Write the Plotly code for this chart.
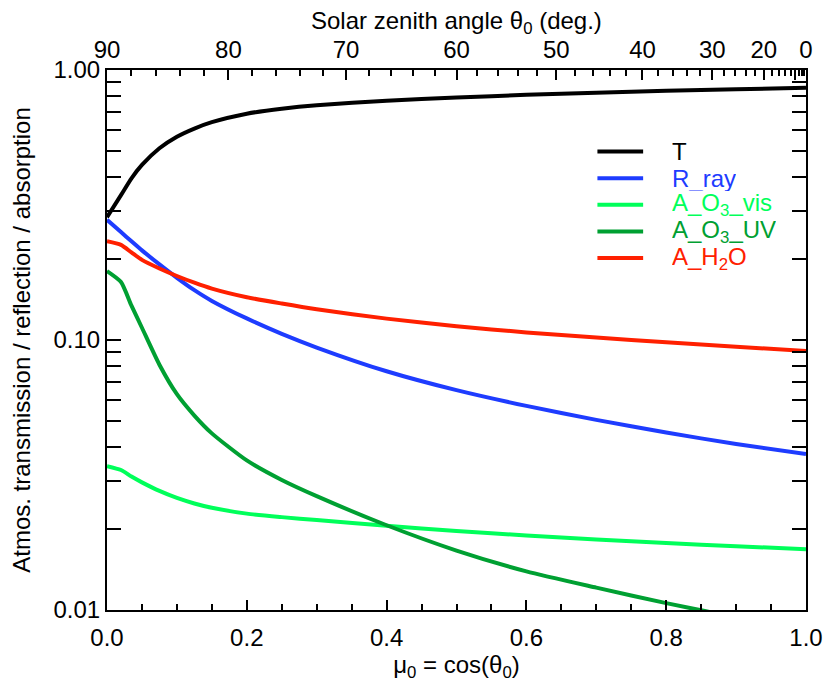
import numpy as np
import plotly.graph_objects as go

# ---------------- data ----------------
mu = [0.0, 0.02, 0.035, 0.05, 0.075, 0.1, 0.125, 0.15, 0.2, 0.25, 0.3, 0.4, 0.5, 0.6, 0.7,
      0.8, 0.9, 1.0]

T = [0.285, 0.344, 0.397, 0.445, 0.513, 0.566, 0.607, 0.641, 0.689, 0.719, 0.741, 0.769,
     0.791, 0.809, 0.824, 0.838, 0.849, 0.859]
R_ray = [0.2786, 0.251, 0.232, 0.2148, 0.1905, 0.170, 0.153, 0.1396, 0.1202, 0.1054, 0.0938,
         0.0766, 0.0652, 0.0570, 0.0506, 0.0454, 0.0412, 0.0378]
A_O3_vis = [0.0341, 0.0330, 0.0312, 0.0297, 0.0276, 0.0260, 0.0248, 0.0239, 0.02275, 0.02208,
            0.02153, 0.0205, 0.01963, 0.01888, 0.01824, 0.0177, 0.01722, 0.0168]
A_O3_UV = [0.180, 0.164, 0.134, 0.111, 0.081, 0.0630, 0.0525, 0.0451, 0.0358, 0.0303,
           0.0264, 0.0206, 0.0166, 0.0139, 0.0121, 0.0106, 0.0094, 0.0084]
A_H2O = [0.232, 0.225, 0.211, 0.198, 0.184, 0.1726, 0.163, 0.155, 0.144, 0.1365, 0.130,
         0.120, 0.1125, 0.1067, 0.1021, 0.0981, 0.0944, 0.0911]

series_names = ["T", "R_ray", "A_O<sub>3</sub>_vis", "A_O<sub>3</sub>_UV", "A_H<sub>2</sub>O"]
series_values = [T, R_ray, A_O3_vis, A_O3_UV, A_H2O]
series_colors = ["#000000", "#1e3cff", "#00ff5a", "#00a032", "#ff2000"]

# axis tick labels
x_ticks = [0.0, 0.2, 0.4, 0.6, 0.8, 1.0]
y_ticks = [0.01, 0.1, 1.0]
y_ticktext = ["0.01", "0.10", "1.00"]
theta_major = [90, 80, 70, 60, 50, 40, 30, 20, 10, 0]
theta_major_text = ["90", "80", "70", "60", "50", "40", "30", "20", "", "0"]
theta_minor = [d for d in range(2, 90, 2) if d % 10 != 0]

FONT = "Liberation Sans, Arial, Helvetica, sans-serif"
FS = 24

fig = go.Figure()
for name, vals, col in zip(series_names, series_values, series_colors):
    fig.add_trace(go.Scatter(x=mu, y=vals, mode="lines", name=name,
                             line=dict(color=col, width=4, shape="spline", smoothing=0.6),
                             showlegend=False))

# dummy trace so the top axis is drawn
fig.add_trace(go.Scatter(x=[None], y=[None], xaxis="x2", yaxis="y",
                         showlegend=False, hoverinfo="skip"))

# ---------------- manual legend ----------------
leg_x0, leg_x1, leg_tx = 0.7016, 0.767, 0.805
leg_y0, leg_dy = 0.849, 0.0493
for i, (name, col) in enumerate(zip(series_names, series_colors)):
    yy = leg_y0 - i * leg_dy
    fig.add_shape(type="line", xref="paper", yref="paper", x0=leg_x0, x1=leg_x1,
                  y0=yy, y1=yy, line=dict(color=col, width=4))
    fig.add_annotation(xref="paper", yref="paper", x=leg_tx, y=yy, text=name,
                       showarrow=False, xanchor="left", yanchor="middle", height=25,
                       valign="middle",
                       font=dict(family=FONT, size=FS, color=col))

# top axis title
fig.add_annotation(xref="paper", yref="paper", x=0.5, y=1.0887,
                   text="Solar zenith angle θ<sub>0</sub> (deg.)", showarrow=False,
                   xanchor="center", yanchor="middle",
                   font=dict(family=FONT, size=FS, color="black"))

axis_common = dict(showline=True, linewidth=2, linecolor="black", ticks="inside",
                   tickwidth=2, tickcolor="black", showgrid=False, zeroline=False,
                   tickfont=dict(family=FONT, size=FS, color="black"))

fig.update_layout(
    width=835, height=684,
    margin=dict(l=107, r=21, t=70, b=73),
    paper_bgcolor="white", plot_bgcolor="white",
    font=dict(family=FONT, size=FS, color="black"),
    xaxis=dict(range=[0, 1], tickmode="array", tickvals=x_ticks,
               ticktext=[f"{v:.1f}" for v in x_ticks], ticklen=10, mirror=True,
               ticklabelstandoff=5,
               minor=dict(dtick=0.05, tick0=0, ticks="inside", ticklen=6, tickwidth=2,
                          tickcolor="black"),
               title=dict(text="μ<sub>0</sub> = cos(θ<sub>0</sub>)",
                          font=dict(family=FONT, size=FS), standoff=4),
               **axis_common),
    xaxis2=dict(overlaying="x", side="top", anchor="y", range=[0, 1], tickmode="array",
                tickvals=[float(np.cos(np.radians(d))) for d in theta_major],
                ticktext=theta_major_text, ticklen=10,
                minor=dict(tickmode="array",
                           tickvals=[float(np.cos(np.radians(d))) for d in theta_minor],
                           ticks="inside", ticklen=6, tickwidth=2, tickcolor="black"),
                **axis_common),
    yaxis=dict(type="log", range=[-2, 0], tickmode="array", tickvals=y_ticks,
               ticktext=y_ticktext, ticklen=14, mirror="allticks",
               minor=dict(tickmode="array",
                          tickvals=[m * 10.0 ** e for e in (-2, -1) for m in range(2, 10)],
                          ticks="inside", ticklen=7, tickwidth=2, tickcolor="black"),
               title=dict(text="Atmos. transmission / reflection / absorption",
                          font=dict(family=FONT, size=FS), standoff=16),
               **axis_common),
)

fig.write_html("out.html")
